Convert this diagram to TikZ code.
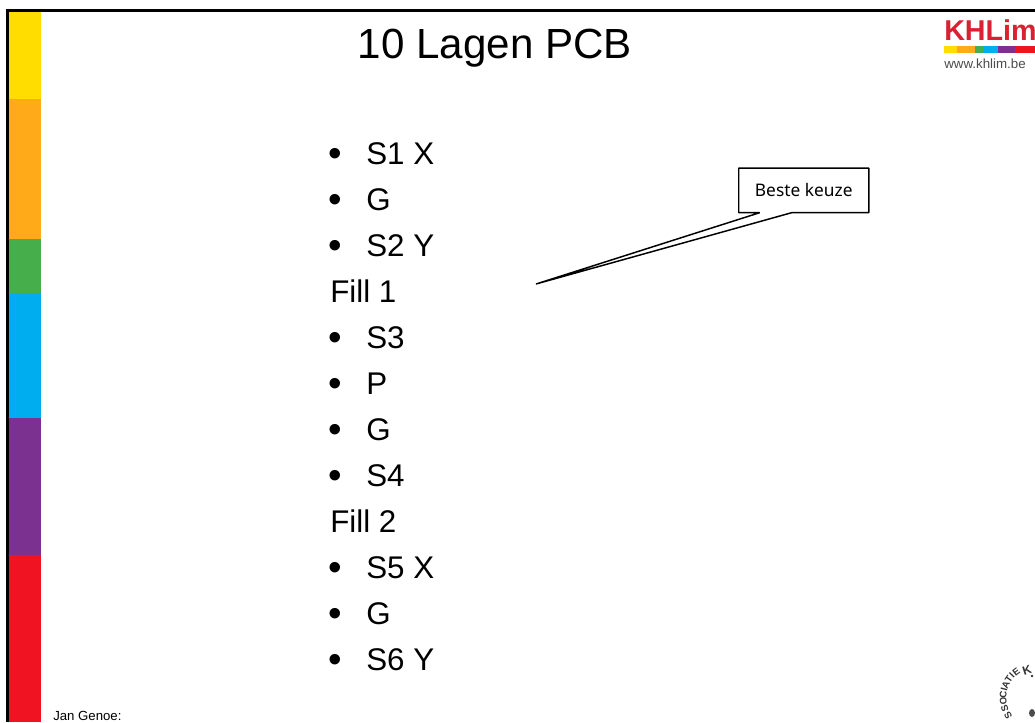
\documentclass[tikz,border=0pt]{standalone}
\usepackage{fontspec}
\usetikzlibrary{calc}
\setmainfont{Liberation Sans}
\newfontfamily\boxfont{Noto Sans}
\definecolor{cyellow}{HTML}{FFDD00}
\definecolor{corange}{HTML}{FFAA19}
\definecolor{cgreen}{HTML}{46AE4A}
\definecolor{cblue}{HTML}{00AEEF}
\definecolor{cpurple}{HTML}{7B3190}
\definecolor{cred}{HTML}{F01423}
\definecolor{logored}{HTML}{DA2032}
\tikzset{
  x=0.75pt,y=-0.75pt,
  band/.style={fill=#1,draw=none},
  item/.style={anchor=base west,inner sep=0pt,font=\fontsize{23.5}{28}\selectfont},
  dotitem/.style={anchor=base,inner sep=0pt,font=\fontsize{29}{34}\selectfont},
  seal/.style={inner sep=0pt,text=black!80,font=\bfseries\fontsize{7.2}{8}\selectfont},
}
\begin{document}
\begin{tikzpicture}
\useasboundingbox (0,0) rectangle (1035,722);
\clip (0,0) rectangle (1035,722);
\fill[white] (0,0) rectangle (1035,722);
% colour bands
\fill[band=cyellow] (9,12) rectangle (41,99);
\fill[band=corange] (9,99) rectangle (41,239);
\fill[band=cgreen] (9,239) rectangle (41,293);
\fill[band=cblue] (9,293) rectangle (41,418);
\fill[band=cpurple] (9,418) rectangle (41,555);
\fill[band=cred] (9,555) rectangle (41,722);
% frame
\fill[black] (6,9) rectangle (1035,12);
\fill[black] (6,9) rectangle (9,722);
% title
\node[anchor=base,inner sep=0pt,font=\fontsize{31.6}{38}\selectfont] (title) at (495,58) {10 Lagen PCB};
% list
\foreach \n/\y/\t in {a/164/S1 X,b/210/G,c/256/S2 Y,d/348/S3,e/394/P,f/440/G,g/486/S4,h/578/S5 X,i/624/G,j/670/S6 Y}{
  \node[dotitem] (dot\n) at (335,\y+2) {•};
  \node[item] (item\n) at (366,\y) {\t};
}
\node[item] (fill1) at (330,302) {Fill 1};
\node[item] (fill2) at (330,532) {Fill 2};
% callout
\node[anchor=center,inner sep=0pt,minimum width=129.5*0.75pt,minimum height=44*0.75pt,font=\boxfont\fontsize{13}{15}\selectfont] (box) at (803.75,190.4) {Beste keuze};
\coordinate (tip) at (536,284);
\coordinate (tailL) at ($(box.south west)+(21,0)$);
\coordinate (tailR) at ($(box.south west)+(53,0)$);
\draw[black,line width=1.1pt,line join=bevel] (box.south west) -- (box.north west) -- (box.north east) -- (box.south east) -- (tailR) -- (tip) -- (tailL) -- cycle;
% footer
\node[anchor=base west,inner sep=0pt,font=\fontsize{9.9}{12}\selectfont] (author) at (53,720) {Jan Genoe:};
% logo
\node[anchor=base west,inner sep=0pt,text=logored,font=\bfseries\fontsize{21.5}{26}\selectfont] (logo) at (944,40.5) {KHLim};
\fill[band=cyellow] (944,46) rectangle (957,53);
\fill[band=corange] (957,46) rectangle (975,53);
\fill[band=cgreen] (975,46) rectangle (983,53);
\fill[band=cblue] (983,46) rectangle (998,53);
\fill[band=cpurple] (998,46) rectangle (1015,53);
\fill[band=cred] (1015,46) rectangle (1035,53);
\node[anchor=base west,inner sep=0pt,text=black!70,font=\fontsize{10}{12}\selectfont] (url) at (944,68) {www.khlim.be};
% seal
\foreach \l/\a in {S/212,S/198,O/185,C/174,I/165,A/156,T/146,I/137,E/127}{
  \node[seal,rotate=\a-90] at (1036+33*cos \a,698-33*sin \a) {\l};
}
\node[seal,rotate=18,font=\bfseries\fontsize{9}{10}\selectfont] (sealk) at (1027,670) {K};
\fill[black!80] (1032,676) circle (1.4);
\fill[black!70] (1032,713) ellipse (3 and 4);
\end{tikzpicture}
\end{document}
